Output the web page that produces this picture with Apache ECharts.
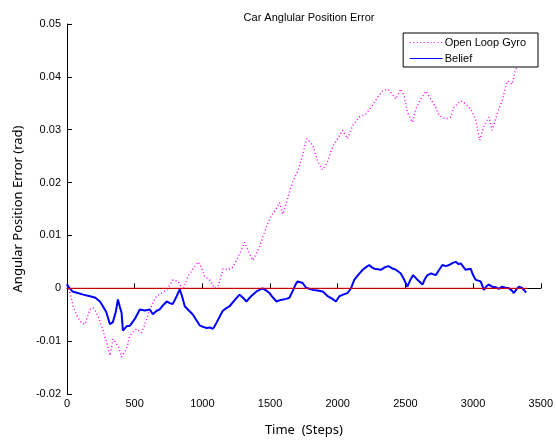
<!DOCTYPE html>
<html>
<head>
<meta charset="utf-8">
<script src="https://cdn.jsdelivr.net/npm/echarts@6/dist/echarts.min.js"></script>
<style>html,body{margin:0;padding:0;background:#fff;}#c{width:556px;height:442px;}</style>
</head>
<body>
<div id="c"></div>
<script>
var beliefSteps = [0,10,40,80,120,170,210,243,265,290,317,339,360,376,390,403,413,440,464,501,538,575,612,634,660,685,710,737,760,781,810,833,850,870,900,928,955,980,1005,1032,1055,1076,1090,1105,1125,1150,1175,1201,1240,1275,1300,1326,1360,1400,1444,1470,1496,1520,1548,1580,1620,1643,1668,1690,1704,1741,1766,1790,1815,1850,1889,1910,1926,1960,1987,2012,2040,2073,2098,2122,2150,2184,2210,2233,2250,2270,2295,2319,2350,2375,2400,2430,2466,2491,2515,2535,2557,2589,2626,2645,2663,2690,2724,2750,2773,2800,2822,2850,2872,2890,2909,2945,2982,3000,3019,3056,3080,3100,3117,3140,3167,3190,3215,3240,3265,3285,3301,3320,3338,3360,3375,3392];
var beliefVals = [0.0008,0.0003,-0.0006,-0.0009,-0.0012,-0.0015,-0.0018,-0.0025,-0.0034,-0.0045,-0.0068,-0.0064,-0.0045,-0.0021,-0.0035,-0.0046,-0.008,-0.0072,-0.0071,-0.0058,-0.004,-0.0042,-0.004,-0.0049,-0.0043,-0.004,-0.0032,-0.0025,-0.0028,-0.003,-0.0015,-0.0002,-0.0015,-0.0034,-0.0042,-0.0049,-0.006,-0.007,-0.0073,-0.0075,-0.0074,-0.0077,-0.0072,-0.0065,-0.0055,-0.0043,-0.0038,-0.0034,-0.0022,-0.0012,-0.0018,-0.0025,-0.0015,-0.0006,0,-0.0004,-0.0009,-0.0017,-0.0025,-0.0022,-0.002,-0.0018,-0.0005,0.0008,0.0013,0.001,0.0001,-0.0001,-0.0003,-0.0004,-0.0006,-0.0011,-0.0015,-0.002,-0.0025,-0.0015,-0.0012,-0.0009,0,0.0016,0.0025,0.0035,0.004,0.0044,0.004,0.0037,0.0036,0.0035,0.004,0.0042,0.0038,0.0035,0.0028,0.0016,0.0003,0.0015,0.0025,0.0016,0.0007,0.0018,0.0025,0.0028,0.0025,0.0035,0.0044,0.0042,0.0044,0.0048,0.005,0.0046,0.0047,0.0035,0.0037,0.0025,0.0016,0.0013,-0.0003,0.0004,0.0007,0.0003,0.0002,-0.0001,0.0003,0.0001,0,-0.0004,-0.0009,-0.0002,0.0003,0.0001,-0.0003,-0.0008];

var gyroSteps = [0,22,46,71,90,108,133,150,170,194,215,231,256,275,293,317,341,360,378,403,420,440,464,490,514,550,570,587,605,624,645,661,698,735,760,783,820,857,894,931,968,993,1017,1054,1091,1115,1135,1152,1189,1225,1250,1275,1312,1336,1373,1398,1422,1447,1472,1508,1540,1570,1594,1631,1668,1704,1741,1771,1790,1815,1852,1889,1926,1962,1999,2036,2073,2110,2159,2209,2245,2294,2331,2368,2405,2430,2466,2491,2515,2552,2577,2614,2651,2688,2724,2749,2798,2835,2859,2909,2945,2982,3019,3049,3080,3117,3141,3178,3215,3252,3289,3314,3350,3392];
var gyroVals = [0.0005,-0.0009,-0.0034,-0.005,-0.006,-0.0065,-0.0068,-0.0055,-0.004,-0.0037,-0.0045,-0.0053,-0.0071,-0.0088,-0.0102,-0.0127,-0.0096,-0.0103,-0.0109,-0.013,-0.0122,-0.0115,-0.009,-0.0082,-0.0077,-0.0084,-0.0072,-0.0059,-0.0045,-0.0034,-0.0022,-0.0015,-0.0009,-0.0003,0.0006,0.0016,0.0013,-0.0003,0.0022,0.0037,0.005,0.004,0.0022,0.0016,0,0.0003,0.002,0.0037,0.0035,0.004,0.0052,0.0065,0.0087,0.0072,0.0053,0.0065,0.0078,0.0097,0.0115,0.0137,0.0148,0.0162,0.014,0.0171,0.0202,0.0221,0.0252,0.0283,0.0278,0.0271,0.024,0.0224,0.024,0.0268,0.0283,0.0299,0.0283,0.0308,0.0324,0.033,0.0342,0.0361,0.0373,0.0377,0.0367,0.0358,0.0377,0.0364,0.0333,0.0314,0.0339,0.0358,0.0373,0.0358,0.0342,0.0327,0.032,0.0324,0.0342,0.0355,0.0349,0.0339,0.032,0.028,0.0308,0.0324,0.0299,0.033,0.0355,0.0392,0.0386,0.0414,0.043,0.045];

var refSteps = [0, 3400];
var refVals = [0, 0];

var xTicks = [0,500,1000,1500,2000,2500,3000,3500];
var yTicks = [-0.02,-0.01,0,0.01,0.02,0.03,0.04,0.05];

function pairs(s, v) { return s.map(function (x, i) { return [x, v[i]]; }); }

var font = "'Liberation Sans', Arial, sans-serif";
var chart = echarts.init(document.getElementById('c'), null, { renderer: 'canvas' });
chart.setOption({
  animation: false,
  backgroundColor: '#fff',
  title: {
    text: 'Car Anglular Position Error',
    left: 304, top: 7, textAlign: 'center',
    textStyle: { fontSize: 11, fontWeight: 'normal', color: '#000', fontFamily: font }
  },
  legend: {
    orient: 'vertical', right: 18, top: 33,
    data: ['Open Loop Gyro', 'Belief'],
    backgroundColor: '#fff', borderColor: '#000', borderWidth: 1,
    padding: [4, 12, 3, 6], itemWidth: 33, itemHeight: 10, itemGap: 5,
    itemStyle: { opacity: 0 },
    lineStyle: { width: 1 },
    textStyle: { fontSize: 11, color: '#000', fontFamily: font, padding: [0, 0, 0, -3] }
  },
  grid: { left: 67, right: 14, top: 24, bottom: 43, containLabel: false },
  xAxis: {
    type: 'value', min: xTicks[0], max: xTicks[xTicks.length - 1], interval: 500,
    name: 'Time  (Steps)', nameLocation: 'middle', nameGap: 30,
    nameTextStyle: { fontSize: 13, color: '#000', fontFamily: "'Noto Sans', sans-serif" },
    axisLine: { lineStyle: { color: '#000', width: 1 } },
    axisTick: { inside: true, length: 5, lineStyle: { color: '#000' } },
    axisLabel: {
      color: '#000', fontSize: 11, fontFamily: font, margin: 4,
      formatter: function (v) { return String(v); }
    },
    splitLine: { show: false }
  },
  yAxis: {
    type: 'value', min: yTicks[0], max: yTicks[yTicks.length - 1], interval: 0.01,
    name: 'Angular Position Error (rad)', nameLocation: 'middle', nameGap: 42, nameRotate: 90,
    nameTextStyle: { fontSize: 13, color: '#000', fontFamily: "'Noto Sans', sans-serif" },
    axisLine: { show: true, lineStyle: { color: '#000', width: 1 } },
    axisTick: { show: true, inside: true, length: 5, lineStyle: { color: '#000' } },
    axisLabel: {
      color: '#000', fontSize: 11, fontFamily: font, margin: 6,
      formatter: function (v) { return Math.abs(v) < 1e-9 ? '0' : v.toFixed(2); }
    },
    splitLine: { show: false }
  },
  series: [
    {
      name: 'Open Loop Gyro', type: 'line', data: pairs(gyroSteps, gyroVals),
      showSymbol: false, symbol: 'none', z: 2,
      lineStyle: { color: '#ff00ff', width: 1.5, type: [1, 2.5] },
      itemStyle: { color: '#ff00ff' }
    },
    {
      name: 'Belief', type: 'line', data: pairs(beliefSteps, beliefVals),
      showSymbol: false, symbol: 'none', z: 3,
      lineStyle: { color: '#0000ff', width: 2 },
      itemStyle: { color: '#0000ff' }
    },
    {
      name: 'zero', type: 'line', data: pairs(refSteps, refVals),
      showSymbol: false, symbol: 'none', z: 4,
      lineStyle: { color: '#ff0000', width: 1 },
      itemStyle: { color: '#ff0000' }
    }
  ]
});
</script>
</body>
</html>
